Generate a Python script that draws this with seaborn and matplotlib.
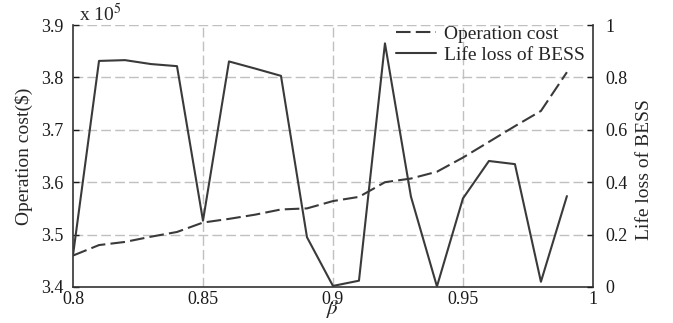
import numpy as np
import pandas as pd
import matplotlib
matplotlib.use("Agg")
import matplotlib.pyplot as plt
import seaborn as sns

beta = [0.80, 0.81, 0.82, 0.83, 0.84, 0.85, 0.86, 0.87, 0.88, 0.89,
        0.90, 0.91, 0.92, 0.93, 0.94, 0.95, 0.96, 0.97, 0.98, 0.99]
operation_cost = [346000, 348000, 348600, 349600, 350500, 352300, 353000, 353800, 354800, 355000,
                  356400, 357200, 360000, 360700, 362000, 364700, 367700, 370700, 373600, 381000]
life_loss = [0.122, 0.863, 0.866, 0.851, 0.843, 0.253, 0.861, 0.834, 0.806, 0.190,
             0.004, 0.024, 0.930, 0.345, 0.002, 0.338, 0.481, 0.469, 0.020, 0.347]
xticks = [0.8, 0.85, 0.9, 0.95, 1.0]
xtick_labels = ["0.8", "0.85", "0.9", "0.95", "1"]
left_ticks = [3.4, 3.5, 3.6, 3.7, 3.8, 3.9]
right_ticks = [0, 0.2, 0.4, 0.6, 0.8, 1.0]
right_labels = ["0", "0.2", "0.4", "0.6", "0.8", "1"]

sns.set_style("white")
plt.rcParams["font.family"] = ["Liberation Serif", "DejaVu Serif"]
plt.rcParams["mathtext.fontset"] = "stix"

df = pd.DataFrame({"beta": beta, "cost": np.array(operation_cost) / 1e5, "loss": life_loss})

fig = plt.figure(figsize=(6.73, 3.23), dpi=100)
ax = fig.add_axes([0.1085, 0.1115, 0.7725, 0.811])
ax2 = ax.twinx()

line_color = "#3a3a3a"
sns.lineplot(data=df, x="beta", y="cost", ax=ax, color=line_color, lw=1.5,
             linestyle=(0, (7, 2.5)), label="Operation cost", legend=False)
sns.lineplot(data=df, x="beta", y="loss", ax=ax2, color=line_color, lw=1.5,
             label="Life loss of BESS", legend=False)

ax.set_xlim(0.8, 1.0)
ax.set_ylim(3.4, 3.9)
ax2.set_ylim(0, 1)
ax.set_xticks(xticks)
ax.set_xticklabels(xtick_labels)
ax.set_yticks(left_ticks)
ax.set_yticklabels([f"{v:.1f}" for v in left_ticks])
ax2.set_yticks(right_ticks)
ax2.set_yticklabels(right_labels)

grid_kw = dict(color="#c0c0c0", lw=1.0, linestyle=(0, (7, 3)))
for xv in xticks[1:-1]:
    ax.axvline(xv, zorder=0, **grid_kw)
for yv in left_ticks[1:-1]:
    ax.axhline(yv, zorder=0, **grid_kw)
ax.axhline(3.9, zorder=0, **grid_kw)

for a in (ax, ax2):
    for s in a.spines.values():
        s.set_visible(False)
ax.spines["left"].set_visible(True)
ax.spines["bottom"].set_visible(True)
ax2.spines["right"].set_visible(True)
for a in (ax, ax2):
    for s in a.spines.values():
        s.set_color("#333333")
        s.set_linewidth(1.2)

ax.tick_params(axis="both", direction="in", length=4, width=1, labelsize=13, colors="#1a1a1a")
ax.tick_params(axis="x", pad=3)
ax.tick_params(axis="y", pad=7)
ax2.tick_params(axis="y", direction="in", length=4, width=1, labelsize=13, colors="#1a1a1a", pad=9)

ax.set_xlabel(r"$\beta$", fontsize=15, labelpad=-7)
ax.set_ylabel("Operation cost($)", fontsize=14)
ax2.set_ylabel("Life loss of BESS", fontsize=14, rotation=90)
ax.yaxis.set_label_coords(-0.077, 0.5)
ax2.yaxis.set_label_coords(1.082, 0.447)
ax.text(0.012, 1.0, r"x 10$^5$", transform=ax.transAxes, fontsize=14, ha="left", va="bottom")

h1, l1 = ax.get_legend_handles_labels()
h2, l2 = ax2.get_legend_handles_labels()
ax2.legend(h1 + h2, l1 + l2, loc="upper right", frameon=False, fontsize=14,
           handlelength=2.1, handletextpad=0.4, borderaxespad=0.0, labelspacing=0.2,
           bbox_to_anchor=(1.0, 1.03))

fig.savefig("out.png", dpi=100)
